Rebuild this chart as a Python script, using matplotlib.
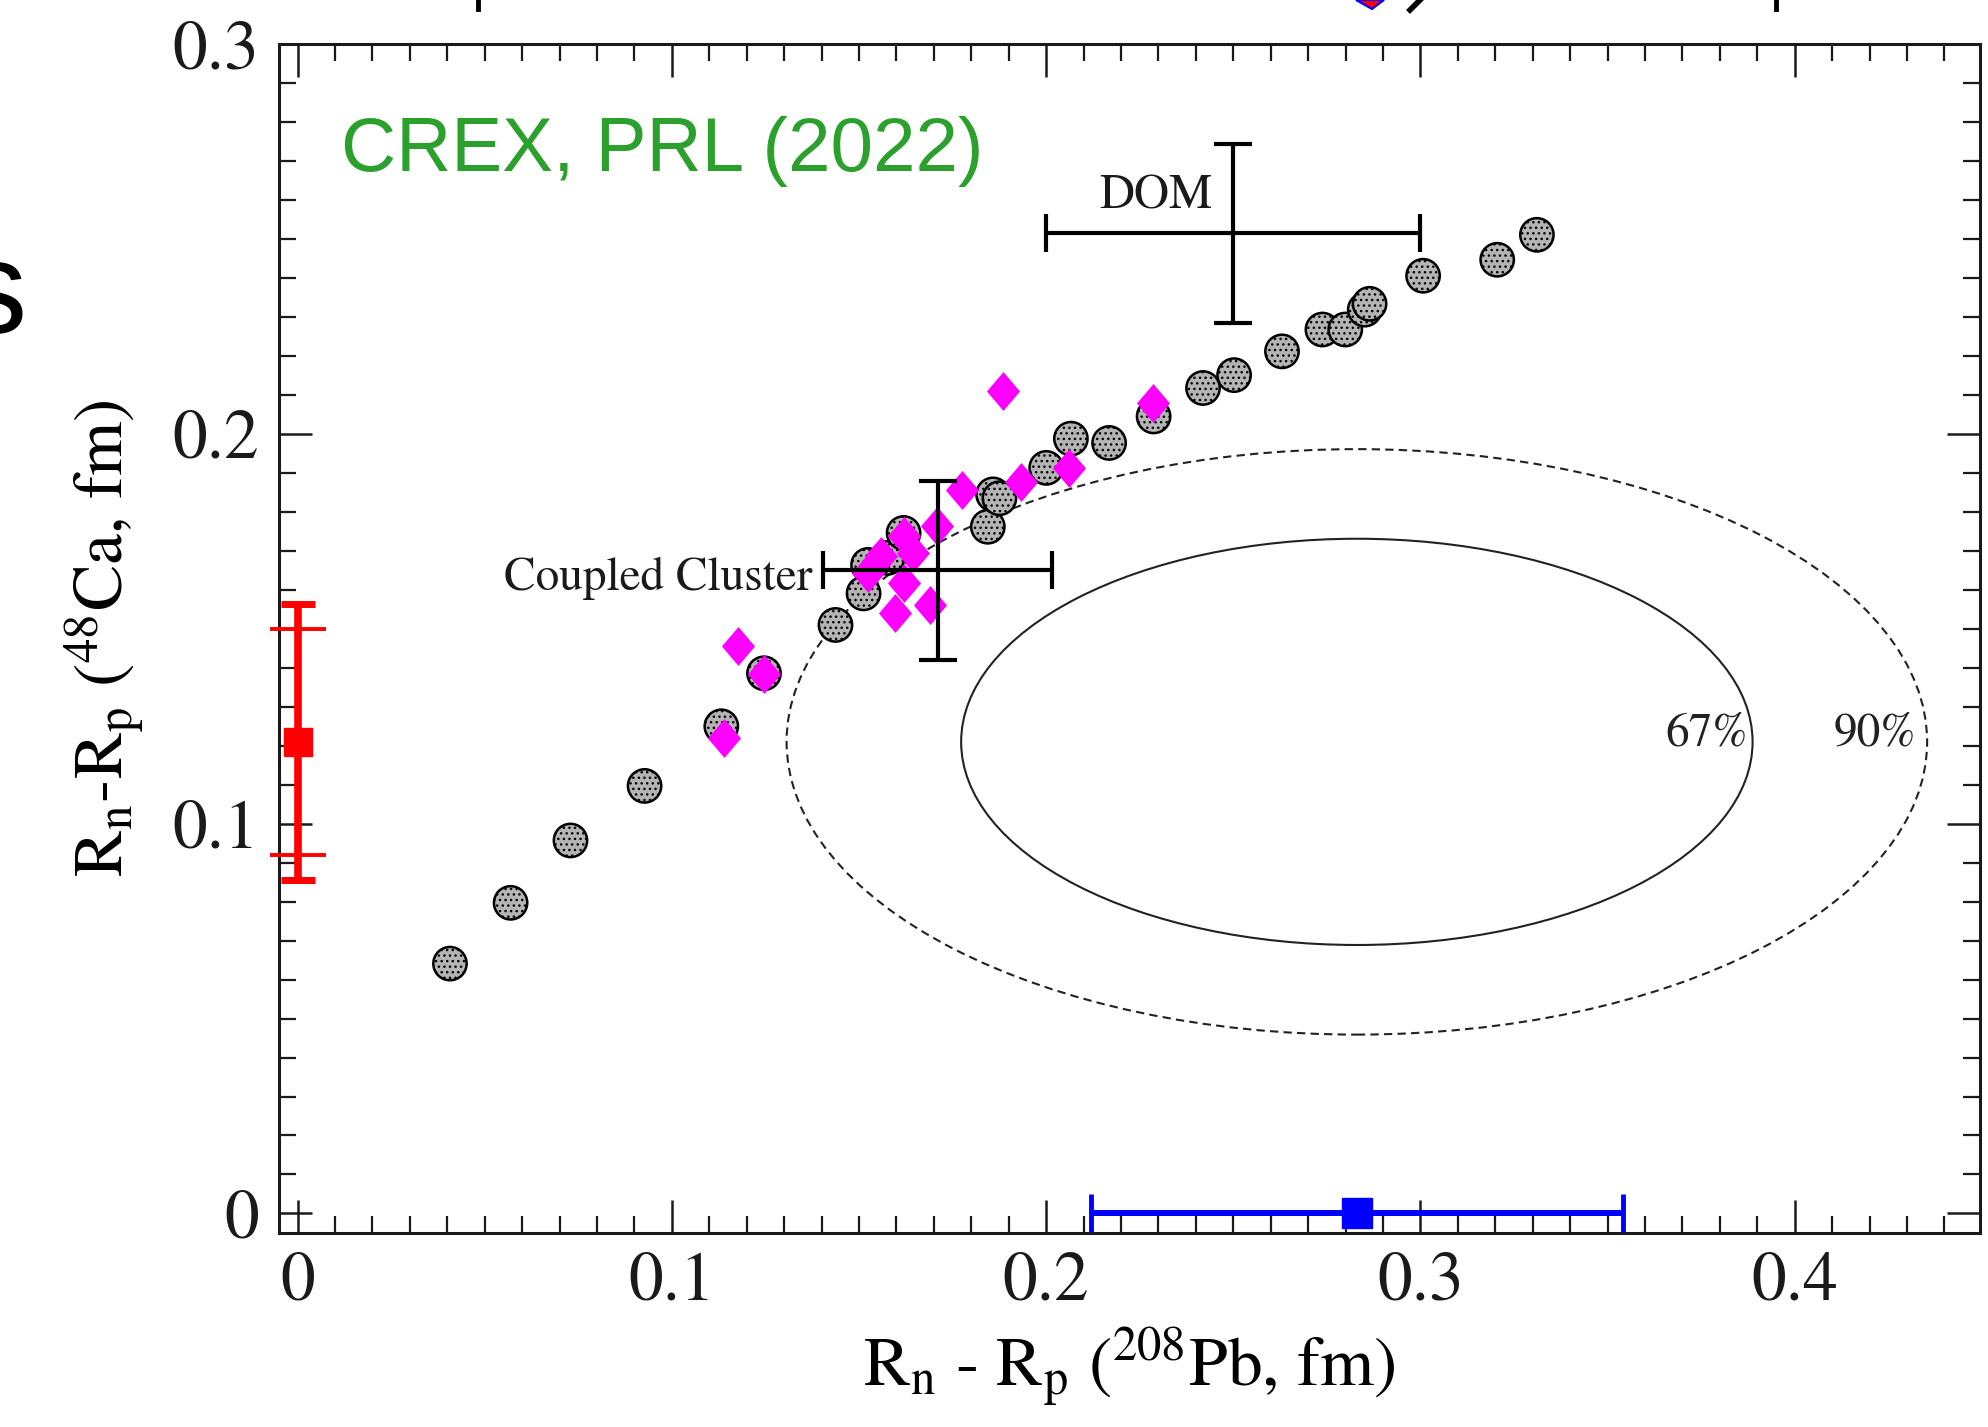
import numpy as np
import matplotlib
matplotlib.use("Agg")
import matplotlib.pyplot as plt
from matplotlib.patches import Ellipse, Polygon
from matplotlib.lines import Line2D
from matplotlib.ticker import MultipleLocator

plt.rcParams["font.family"] = "STIXGeneral"
plt.rcParams["mathtext.fontset"] = "stix"

# density-functional predictions, Rn-Rp of 208Pb (x) and 48Ca (y), fm
func_x = [0.0407, 0.0569, 0.0729, 0.0927, 0.1132, 0.1246, 0.1437, 0.1512, 0.1524, 0.1576,
          0.1619, 0.1844, 0.1858, 0.1875, 0.2000, 0.2066, 0.2168, 0.2287, 0.2419, 0.2502,
          0.2630, 0.2738, 0.2799, 0.2851, 0.2864, 0.3007, 0.3205, 0.3311]
func_y = [0.0641, 0.0797, 0.0957, 0.1097, 0.1250, 0.1386, 0.1510, 0.1591, 0.1664, 0.1682,
          0.1746, 0.1762, 0.1845, 0.1835, 0.1913, 0.1988, 0.1977, 0.2045, 0.2118, 0.2151,
          0.2212, 0.2268, 0.2268, 0.2319, 0.2334, 0.2406, 0.2447, 0.2511]

# second family of models (magenta)
func2_x = [0.1139, 0.1176, 0.1246, 0.1595, 0.1690, 0.1619, 0.1524, 0.1559, 0.1619, 0.1708,
           0.1774, 0.1932, 0.2061, 0.1885, 0.2285, 0.1643]
func2_y = [0.1220, 0.1455, 0.1383, 0.1540, 0.1562, 0.1617, 0.1643, 0.1686, 0.1738, 0.1764,
           0.1857, 0.1878, 0.1913, 0.2109, 0.2079, 0.1695]

# ab initio / dispersive-optical-model points with uncertainties
theory_names = ["DOM", "Coupled Cluster"]
theory_x = [0.250, 0.171]
theory_y = [0.2515, 0.165]
theory_xerr = [0.050, 0.0306]
theory_yerr = [0.023, 0.023]

# CREX (48Ca) and PREX-II (208Pb) results
crex_x, crex_y = 0.0, 0.121
crex_err_tot, crex_err_exp = 0.0355, 0.029
prex_x, prex_y = 0.283, 0.0
prex_err = 0.071

# joint likelihood contours
sig_x, sig_y = 0.071, 0.035
cl_levels = [0.67, 0.90]
cl_labels = ["67%", "90%"]

fig = plt.figure(figsize=(19.88, 14.27), dpi=100)
ax = fig.add_axes([0.1403, 0.136, 0.8557, 0.833])
ax.set_xlim(-0.005, 0.4495)
ax.set_ylim(-0.005, 0.3)

for lev, ls in zip(cl_levels, ["-", (0, (4, 2.5))]):
    k = np.sqrt(-2 * np.log(1 - lev))
    ax.add_patch(Ellipse((prex_x, crex_y), 2 * k * sig_x, 2 * k * sig_y, fill=False,
                         ec="#222222", lw=1.5, ls=ls, zorder=1))
ax.text(0.3764, 0.1201, cl_labels[0], ha="center", va="baseline", fontsize=34, color="#222222")
ax.text(0.4214, 0.1201, cl_labels[1], ha="center", va="baseline", fontsize=34, color="#222222")

ax.scatter(func_x, func_y, s=24**2, facecolor="#b4b4b4", edgecolor="black", linewidth=1.8,
           hatch="...", zorder=3)
diamond = [(0, 1), (0.85, 0), (0, -1), (-0.85, 0), (0, 1)]
ax.scatter(func2_x, func2_y, s=28**2, marker=diamond, color="#ff00ff", linewidth=0, zorder=4)

ax.errorbar(theory_x, theory_y, xerr=theory_xerr, yerr=theory_yerr, fmt="none", ecolor="black",
            elinewidth=3, capsize=14, capthick=3, zorder=6)
ax.text(0.2294, 0.2578, theory_names[0], ha="center", va="baseline", fontsize=35, color="#1a1a1a")
ax.text(0.1375, 0.160, theory_names[1], ha="right", va="baseline", fontsize=34, color="#1a1a1a")

# CREX on the y axis
ax.errorbar(crex_x, crex_y, yerr=crex_err_tot, fmt="none", ecolor="red", elinewidth=5.5,
            capsize=12, capthick=5, clip_on=False, zorder=5)
ax.errorbar(crex_x, crex_y, yerr=crex_err_exp, fmt="none", ecolor="red", elinewidth=2.5,
            capsize=20, capthick=2.8, clip_on=False, zorder=5)
ax.plot(crex_x, crex_y, "s", color="red", ms=20, clip_on=False, zorder=5)

# PREX-II on the x axis
ax.errorbar(prex_x, prex_y, xerr=prex_err, fmt="none", ecolor="blue", elinewidth=4.3,
            capsize=14, capthick=3.5, clip_on=False, zorder=5)
ax.plot(prex_x, prex_y, "s", color="blue", ms=22, clip_on=False, zorder=5)

ax.text(0.0117, 0.2676, "CREX, PRL (2022)", family="Liberation Sans", fontsize=55,
        color="#2ca02c", ha="left", va="baseline")

ax.set_xticks([0, 0.1, 0.2, 0.3, 0.4])
ax.set_xticklabels(["0", "0.1", "0.2", "0.3", "0.4"])
ax.set_yticks([0, 0.1, 0.2, 0.3])
ax.set_yticklabels(["0", "0.1", "0.2", "0.3"])
ax.xaxis.set_minor_locator(MultipleLocator(0.01))
ax.yaxis.set_minor_locator(MultipleLocator(0.01))
ax.tick_params(which="both", direction="in", top=True, right=True, colors="#1a1a1a")
ax.tick_params(which="major", length=24, width=1.8, labelsize=50, pad=14)
ax.tick_params(which="minor", length=12, width=1.6)
for sp in ax.spines.values():
    sp.set_linewidth(2.2)
    sp.set_color("#1a1a1a")

ax.set_xlabel(r"R$_\mathrm{n}$ - R$_\mathrm{p}$ ($^{208}$Pb, fm)", fontsize=50)
ax.set_ylabel(r"R$_\mathrm{n}$-R$_\mathrm{p}$ ($^{48}$Ca, fm)", fontsize=50)
ax.xaxis.set_label_coords(0.5, -0.078)
ax.yaxis.set_label_coords(-0.078, 0.5)

# slide fragments around the cropped figure
fig.text(27 / 1988, 1 - 333 / 1427, "s", family="Liberation Sans", fontsize=94,
         ha="right", va="baseline", color="black")
for px in [478, 1776]:
    fig.add_artist(Line2D([px / 1988] * 2, [1 - 9 / 1427, 1.0], lw=3.5, color="black"))
fig.add_artist(Line2D([1420 / 1988, 1410 / 1988], [1.0, 1 - 10 / 1427], lw=4, color="black"))
fig.add_artist(Polygon([(1356 / 1988, 1.0), (1384 / 1988, 1.0), (1372 / 1988, 1 - 9 / 1427)],
                       closed=True, fc="red", ec="blue", lw=1.5, transform=fig.transFigure))

fig.savefig("out.png", dpi=100)
